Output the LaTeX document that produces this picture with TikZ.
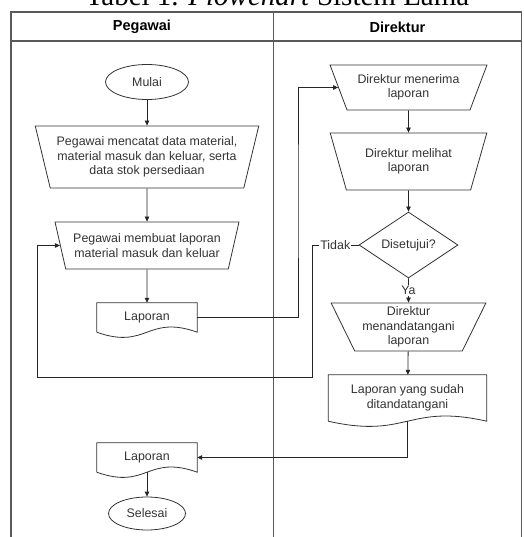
\documentclass[tikz,border=0pt]{standalone}
\usepackage{fontspec}
\setmainfont{Liberation Sans}
\newfontfamily\titlefont{Liberation Serif}
\usetikzlibrary{shapes.geometric,arrows.meta}

\tikzset{
  txt/.style={text=black!80, font=\fontsize{12.4}{14.5}\selectfont, align=center},
  outline/.style={draw=black!80, line width=0.8pt},
  terminal/.style={txt, outline, ellipse, inner sep=0pt},
  manual/.style={txt, outline, trapezium, shape border rotate=180, trapezium stretches=true, inner xsep=-5pt, inner ysep=0pt},
  decision/.style={txt, outline, diamond, inner sep=0pt},
  docu/.style={txt, inner sep=0pt},
  arr/.style={-{Triangle[length=5pt,width=4.5pt]}, line width=0.8pt, draw=black!85},
  lane/.style={draw=black!65, line width=1.2pt},
  lbl/.style={txt, fill=white, inner sep=1pt}
}

% document symbol: straight top and sides, wavy bottom
\newcommand{\docoutline}[1]{%
  \draw[outline] (#1.south west) -- (#1.north west) -- (#1.north east) -- (#1.south east)
    .. controls ([yshift=18pt]#1.south) and ([yshift=-18pt]#1.south) .. (#1.south west);}

\begin{document}
\begin{tikzpicture}[x=1pt,y=-1pt]
\useasboundingbox (0,0) rectangle (523,537);

% judul
\node [anchor=base, inner sep=0pt, font=\titlefont\fontsize{29}{32}\selectfont] (judul) at (277.5,6) {Tabel 1. \textit{Flowchart} Sistem Lama};

% swimlane
\draw[lane] (11,545) -- (11,12) -- (521.5,12) -- (521.5,545);
\draw[lane] (11,41) -- (521.5,41);
\draw[lane] (273.5,12) -- (273.5,545);
\node [font=\bfseries\fontsize{14.5}{16}\selectfont] (pegawai) at (142,27) {Pegawai};
\node [font=\bfseries\fontsize{14.5}{16}\selectfont] (direktur) at (397.5,27) {Direktur};

% pegawai
\node [terminal, minimum width=83pt, minimum height=35pt] (mulai) at (147,82) {Mulai};
\node [manual, trapezium angle=72, minimum width=224pt, minimum height=62pt] (catat) at (147,157) {Pegawai mencatat data material,\\material masuk dan keluar, serta\\data stok persediaan};
\node [manual, trapezium angle=69, minimum width=184pt, minimum height=47pt] (buat) at (147,245.5) {Pegawai membuat laporan\\material masuk dan keluar};
\node [docu, minimum width=100pt, minimum height=29pt] (lap1) at (147,317.5) {Laporan};
\node [docu, minimum width=100pt, minimum height=29pt] (lap2) at (147,457.5) {Laporan};
\node [terminal, minimum width=77pt, minimum height=33pt] (selesai) at (147,513.5) {Selesai};
\docoutline{lap1}
\docoutline{lap2}

% direktur
\node [manual, trapezium angle=64, minimum width=157pt, minimum height=45pt] (terima) at (408.5,87.5) {Direktur menerima\\laporan};
\node [manual, trapezium angle=69, minimum width=157pt, minimum height=57pt] (lihat) at (408.5,161.5) {Direktur melihat\\laporan};
\node [decision, minimum width=99pt, minimum height=54pt] (setuju) at (408.5,245) {Disetujui?};
\node [manual, trapezium angle=66, minimum width=155pt, minimum height=48pt] (ttd) at (408.5,327) {Direktur\\menandatangani\\laporan};
\node [docu, minimum width=158pt, minimum height=46pt] (lap3) at (407.5,398) {Laporan yang sudah\\ditandatangani};
\docoutline{lap3}

\coordinate (k1) at (298,200);
\coordinate (k2) at (312,377);
\coordinate (k3) at (37,377);

% alur
\draw[arr] (mulai) -- (catat);
\draw[arr] (catat) -- (buat);
\draw[arr] (buat) -- (lap1);
\draw[arr] (lap1.east) -| (k1) |- (terima.west);
\draw[arr] (terima) -- (lihat);
\draw[arr] (lihat) -- (setuju);
\draw[arr] (setuju.south) -- node[lbl] (ya) {Ya} (ttd.north);
\draw[arr] (ttd) -- (lap3);
\draw[arr] (setuju.west) -- node[lbl] (tidak) {Tidak} (setuju.west -| k2) -- (k2) -- (k3) |- (buat.west);
\draw[arr] (lap3.south) |- (lap2.east);
\draw[arr] (lap2.south) -- (selesai);
\end{tikzpicture}
\end{document}
